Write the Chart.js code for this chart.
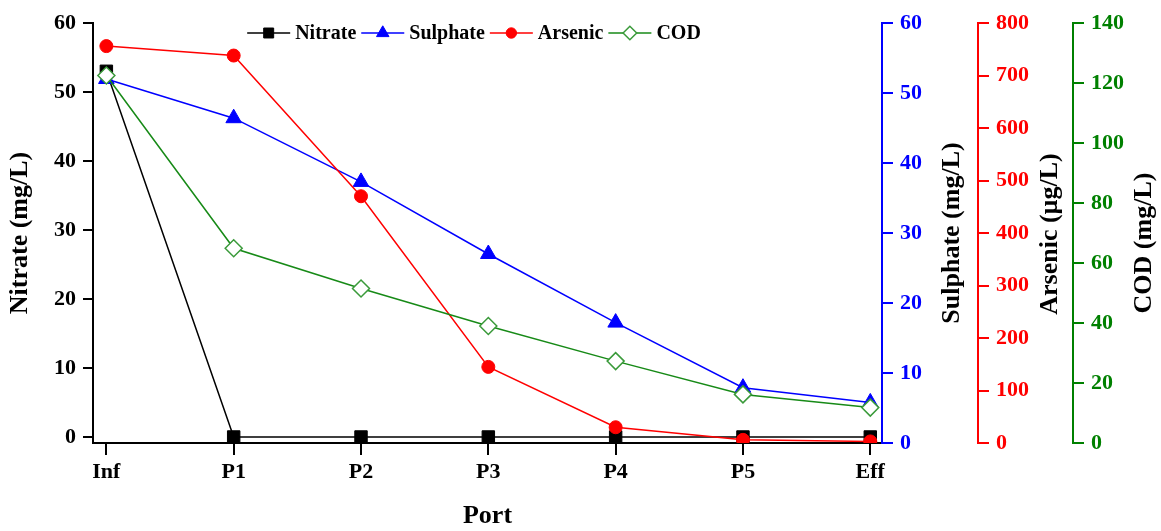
<!DOCTYPE html>
<html>
<head>
<meta charset="utf-8">
<script src="https://cdn.jsdelivr.net/npm/chart.js@4.4.1/dist/chart.umd.min.js"></script>
<style>
  html, body { margin: 0; padding: 0; background: #fff; }
  #wrap { position: relative; width: 1161px; height: 531px; }
</style>
</head>
<body>
<div id="wrap"><canvas id="c"></canvas></div>
<script>
// Sampling ports along the reactor
const ports = ['Inf', 'P1', 'P2', 'P3', 'P4', 'P5', 'Eff'];

// Measured concentrations at each port
const nitrate  = [53.0, 0, 0, 0, 0, 0, 0];            // mg/L
const sulphate = [52.0, 46.4, 37.3, 27.0, 17.2, 7.9, 5.8]; // mg/L
const arsenic  = [756, 738, 470, 145, 30, 6, 3];       // µg/L
const cod      = [122.5, 64.9, 51.5, 39.0, 27.3, 16.2, 11.8]; // mg/L

// Tick values for each axis
const nitrateTicks  = [0, 10, 20, 30, 40, 50, 60];
const sulphateTicks = [0, 10, 20, 30, 40, 50, 60];
const arsenicTicks  = [0, 100, 200, 300, 400, 500, 600, 700, 800];
const codTicks      = [0, 20, 40, 60, 80, 100, 120, 140];

const FONT = "'Liberation Serif', 'Times New Roman', serif";
const BLUE = '#0000ff', RED = '#ff0000', GREEN = '#008000';

const toPoints = arr => arr.map((v, i) => ({ x: i, y: v }));

function valueAxis(opts) {
  return {
    type: 'linear',
    position: opts.position,
    min: opts.min,
    max: opts.max,
    afterBuildTicks: s => { s.ticks = opts.ticks.map(v => ({ value: v })); },
    afterFit: s => { s.width = opts.width; },
    border: { display: true, color: opts.color, width: 2 },
    grid: { drawOnChartArea: false, drawTicks: true, tickLength: opts.tickLength, color: opts.color, lineWidth: 2 },
    ticks: { color: opts.color, padding: 7, font: { family: FONT, size: 22, weight: 'bold' } },
    title: {
      display: opts.showTitle,
      text: opts.title,
      color: '#000',
      padding: { top: 6, bottom: 0 },
      font: { family: FONT, size: 26, weight: 'bold', lineHeight: 1.1 }
    }
  };
}

// Right-hand axis titles read bottom-to-top
const rightTitles = {
  id: 'rightTitles',
  afterDraw(chart, args, opts) {
    const ctx = chart.ctx;
    const area = chart.chartArea;
    ctx.save();
    ctx.font = `bold ${opts.size}px ${FONT}`;
    ctx.fillStyle = '#000';
    ctx.textAlign = 'center';
    ctx.textBaseline = 'middle';
    opts.axes.forEach(a => {
      const s = chart.scales[a.id];
      const x = s.right - a.dx;
      const y = (area.top + area.bottom) / 2 + a.dy;
      ctx.save();
      ctx.translate(x, y);
      ctx.rotate(-Math.PI / 2);
      ctx.fillText(s.options.title.text, 0, 0);
      ctx.restore();
    });
    ctx.restore();
  }
};

// Series key: line sample with marker, followed by the name
const seriesKey = {
  id: 'seriesKey',
  afterDraw(chart, args, opts) {
    const ctx = chart.ctx;
    ctx.save();
    ctx.font = `bold ${opts.size}px ${FONT}`;
    const items = chart.data.datasets.map(ds => ({ ds, w: ctx.measureText(ds.label).width }));
    const total = items.reduce((s, it) => s + opts.sample + opts.gap + it.w, 0) + opts.spacing * (items.length - 1);
    let x = opts.centerX - total / 2;
    const y = opts.y;
    items.forEach(({ ds, w }) => {
      ctx.strokeStyle = ds.borderColor;
      ctx.lineWidth = ds.borderWidth;
      ctx.beginPath();
      ctx.moveTo(x, y);
      ctx.lineTo(x + opts.sample, y);
      ctx.stroke();
      ctx.fillStyle = ds.pointBackgroundColor;
      ctx.strokeStyle = ds.pointBorderColor;
      ctx.lineWidth = ds.pointBorderWidth;
      Chart.helpers.drawPoint(ctx, {
        pointStyle: ds.pointStyle,
        radius: ds.pointRadius * 0.8,
        rotation: 0,
        borderWidth: ds.pointBorderWidth
      }, x + opts.sample / 2, y);
      ctx.fillStyle = '#000';
      ctx.textAlign = 'left';
      ctx.textBaseline = 'middle';
      ctx.fillText(ds.label, x + opts.sample + opts.gap, y + 1);
      x += opts.sample + opts.gap + w + opts.spacing;
    });
    ctx.restore();
  }
};

new Chart(document.getElementById('c'), {
  type: 'line',
  data: {
    datasets: [
      {
        label: 'Nitrate', data: toPoints(nitrate), yAxisID: 'y',
        borderColor: '#000', borderWidth: 1.5,
        pointStyle: 'rect', pointRadius: 8.8,
        pointBackgroundColor: '#000', pointBorderColor: '#000', pointBorderWidth: 1,
        order: 4
      },
      {
        label: 'Sulphate', data: toPoints(sulphate), yAxisID: 'y1',
        borderColor: BLUE, borderWidth: 1.5,
        pointStyle: 'triangle', pointRadius: 9,
        pointBackgroundColor: BLUE, pointBorderColor: BLUE, pointBorderWidth: 1,
        order: 3
      },
      {
        label: 'Arsenic', data: toPoints(arsenic), yAxisID: 'y2',
        borderColor: RED, borderWidth: 1.5,
        pointStyle: 'circle', pointRadius: 6.5,
        pointBackgroundColor: RED, pointBorderColor: RED, pointBorderWidth: 1,
        order: 2
      },
      {
        label: 'COD', data: toPoints(cod), yAxisID: 'y3',
        borderColor: '#178a17', borderWidth: 1.5,
        pointStyle: 'rectRot', pointRadius: 8.5,
        pointBackgroundColor: '#fff', pointBorderColor: '#3a9a3a', pointBorderWidth: 1.5,
        order: 1
      }
    ]
  },
  options: {
    responsive: true,
    maintainAspectRatio: false,
    animation: false,
    devicePixelRatio: 1,
    layout: { padding: { top: 23, left: 0, right: 0, bottom: 0 } },
    plugins: {
      legend: { display: false },
      tooltip: { enabled: false },
      seriesKey: { centerX: 474, y: 33, size: 20, sample: 43, gap: 5, spacing: 5 },
      rightTitles: {
        size: 26,
        axes: [
          { id: 'y1', dx: 26, dy: 0 },
          { id: 'y2', dx: 23, dy: 1 },
          { id: 'y3', dx: 17, dy: 10 }
        ]
      }
    },
    scales: {
      x: {
        type: 'linear',
        position: 'bottom',
        min: -0.105,
        max: 6.092,
        afterBuildTicks: s => { s.ticks = ports.map((p, i) => ({ value: i })); },
        afterFit: s => { s.height = 88; },
        border: { display: true, color: '#000', width: 2 },
        grid: { drawOnChartArea: false, drawTicks: true, tickLength: 12, color: '#000', lineWidth: 2 },
        ticks: {
          color: '#000', padding: 4, maxRotation: 0, autoSkip: false,
          font: { family: FONT, size: 22, weight: 'bold' },
          callback: v => ports[v]
        },
        title: {
          display: true, text: 'Port', color: '#000',
          padding: { top: 0, bottom: 0 },
          font: { family: FONT, size: 26, weight: 'bold', lineHeight: 1.1 }
        }
      },
      y:  valueAxis({ position: 'left',  min: -0.87, max: 60,  ticks: nitrateTicks,  color: '#000', width: 93, tickLength: 10, title: 'Nitrate (mg/L)',  showTitle: true }),
      y1: valueAxis({ position: 'right', min: 0,     max: 60,  ticks: sulphateTicks, color: BLUE,   width: 96, tickLength: 11, title: 'Sulphate (mg/L)', showTitle: false }),
      y2: valueAxis({ position: 'right', min: 0,     max: 800, ticks: arsenicTicks,  color: RED,    width: 95, tickLength: 11, title: 'Arsenic (µg/L)',  showTitle: false }),
      y3: valueAxis({ position: 'right', min: 0,     max: 140, ticks: codTicks,      color: GREEN,  width: 88, tickLength: 11, title: 'COD (mg/L)',      showTitle: false })
    }
  },
  plugins: [rightTitles, seriesKey]
});
</script>
</body>
</html>
